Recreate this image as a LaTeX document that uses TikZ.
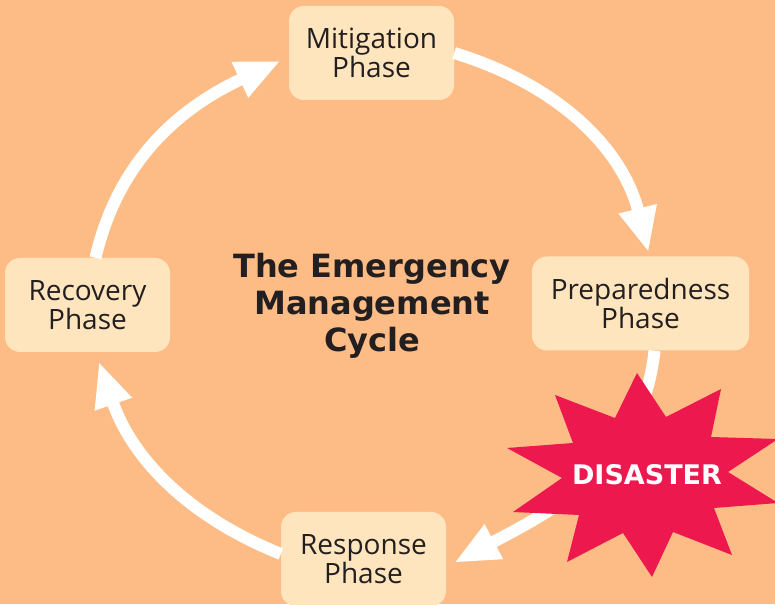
\documentclass[tikz,border=0pt]{standalone}
\usepackage{fontspec}
\setmainfont{Open Sans}
\newfontfamily\headfont{DejaVu Sans}
\usetikzlibrary{arrows.meta}
\definecolor{bgorange}{RGB}{253,188,133}
\definecolor{boxcream}{RGB}{255,229,190}
\definecolor{starred}{RGB}{237,25,78}
\definecolor{inkgray}{RGB}{35,31,32}
\tikzset{
  phase/.style = {
    fill=boxcream, rounded corners=15pt, align=center,
    minimum width=165pt, minimum height=94pt, inner xsep=16pt,
    text=inkgray, font=\fontsize{28}{29}\selectfont
  },
  cyclearrow/.style = {
    draw=white, line width=12pt,
    -{Triangle[length=45pt,width=36pt]}
  }
}

\begin{document}
\begin{tikzpicture}[x=1pt,y=1pt]
  \clip (0,0) rectangle (775,604);
  \fill[bgorange] (0,0) rectangle (775,604);

  % the four phases
  \node[phase] (mit)  at (371.5,551) {Mitigation\\Phase};
  \node[phase, minimum width=217pt] (prep) at (640.5,300.5) {Preparedness\\Phase};
  \node[phase] (resp) at (363.5,45) {Response\\Phase};
  \node[phase] (rec)  at (87.5,299) {Recovery\\Phase};

  \node[text=inkgray, align=center,
        font=\headfont\bfseries\fontsize{32}{37}\selectfont] (title)
        at (372,298) {The Emergency\\Management\\Cycle};

  % cycle
  \draw[cyclearrow, shorten >=4pt] (mit.east)
        to[out=-17,in=104] ([xshift=9pt]prep.north);
  \draw[cyclearrow, shorten >=9pt] ([xshift=14pt]prep.south)
        to[out=-96,in=28] ([yshift=-8pt]resp.east);
  \draw[cyclearrow, shorten >=10pt] ([yshift=5pt]resp.west)
        to[out=158,in=-71] ([xshift=8pt]rec.south);
  \draw[cyclearrow, shorten >=9pt] ([xshift=8pt]rec.north)
        to[out=77,in=-155] ([yshift=-4pt]mit.west);

  % disaster burst
  \fill[starred] (637,231) -- (666,187) -- (721,215) -- (711,167)
    -- (778,165) -- (728,132) -- (778,101) -- (714,96) -- (732,49)
    -- (673,72) -- (652,27) -- (623,71) -- (567,42) -- (579,89)
    -- (513,92) -- (562,126) -- (507,156) -- (573,161) -- (555,209)
    -- (615,186) -- cycle;
  \node[text=white, font=\headfont\bfseries\fontsize{27}{30}\selectfont]
        (disaster) at (647,129) {DISASTER};
\end{tikzpicture}
\end{document}
